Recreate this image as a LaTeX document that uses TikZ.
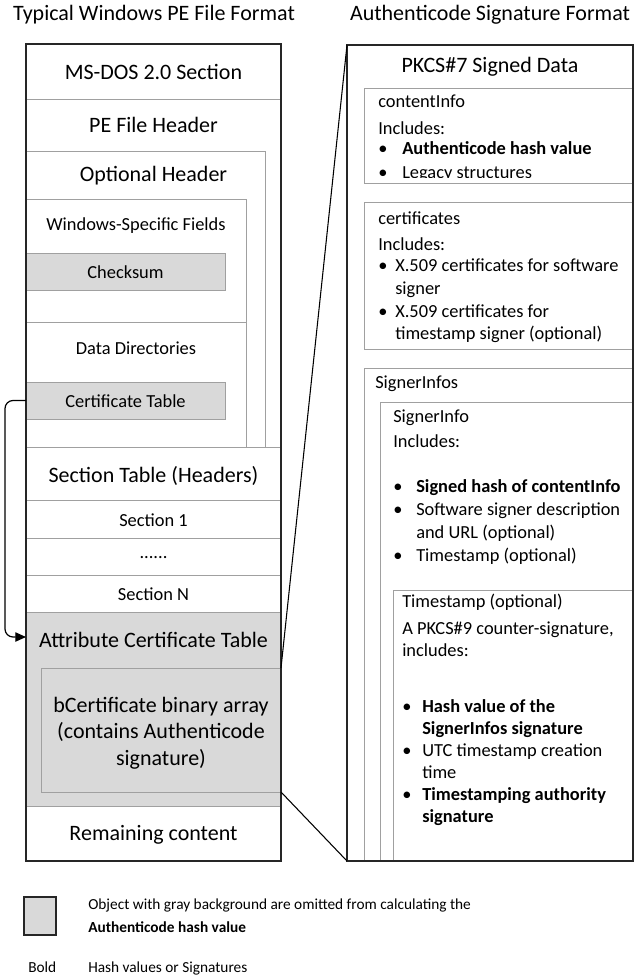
\documentclass[tikz,border=0pt]{standalone}
\usepackage{fontspec}
\setmainfont{Carlito}
\usetikzlibrary{positioning,arrows.meta,fit,calc}
\definecolor{cellgray}{HTML}{D9D9D9}
\definecolor{linegray}{HTML}{A0A0A0}
\newcommand{\bul}[1]{\makebox[#1][l]{\textbullet}}

\begin{document}
\begin{tikzpicture}[x=0.75pt,y=-0.75pt,
  frame/.style={draw=black!85, line width=1.5pt, inner sep=0pt, outer sep=0pt},
  part/.style={draw=linegray, line width=0.75pt, inner sep=0pt, outer sep=0pt},
  shaded/.style={part, fill=cellgray},
  big/.style={font=\fontsize{16.5}{19.9}\selectfont, anchor=base, inner sep=0pt},
  small/.style={font=\fontsize{13.8}{16.5}\selectfont, anchor=base, inner sep=0pt},
  note/.style={font=\fontsize{13.8}{16.5}\selectfont, anchor=base west, inner sep=0pt},
  legend/.style={font=\fontsize{11.5}{17.25}\selectfont, anchor=base west, inner sep=0pt},
  zoomline/.style={draw=black, line width=0.8pt},
]
\useasboundingbox (0,0) rectangle (635,978);

% titles
\node[big] (petitle) at (154,21) {Typical Windows PE File Format};
\node[big] (sigtitle) at (490,21) {Authenticode Signature Format};

% PE file layout
\node[part, fit={(26,44) (281,99)}] (dosrow) {};
\node[part, fit={(26,99) (281,447)}] (hdrrow) {};
\node[part, fit={(26,151) (265,447)}] (opt) {};
\node[part, fit={(26,199) (246,322)}] (winf) {};
\node[shaded, fit={(26,253) (225,290)}] (chk) {};
\node[part, fit={(26,322) (246,447)}] (ddir) {};
\node[shaded, fit={(26,382) (225,419)}] (cert) {};
\node[part, fit={(26,447) (281,500)}] (sectab) {};
\node[part, fit={(26,500) (281,538)}] (sec1) {};
\node[part, fit={(26,538) (281,575)}] (secdots) {};
\node[part, fit={(26,575) (281,612)}] (secn) {};
\node[shaded, fit={(26,612) (281,806)}] (attr) {};
\node[shaded, fit={(41,668) (281,792)}] (bcert) {};
\node[part, fit={(26,806) (281,861)}] (rest) {};
\node[frame, fit={(26,44) (281,861)}] (pe) {};

\node[big] (dostxt) at (153.5,79) {MS-DOS 2.0 Section};
\node[big] (pehtxt) at (153.5,132) {PE File Header};
\node[big] (opttxt) at (153.5,181) {Optional Header};
\node[small] (winftxt) at (136,230) {Windows-Specific Fields};
\node[small] (chktxt) at (125.5,278) {Checksum};
\node[small] (ddirtxt) at (136,354) {Data Directories};
\node[small] (certtxt) at (125.5,407) {Certificate Table};
\node[big] (sectabtxt) at (153.5,482) {Section Table (Headers)};
\node[small] (sec1txt) at (153.5,526) {Section 1};
\node[small] (dotstxt) at (153.5,558) {......};
\node[small] (secntxt) at (153.5,600) {Section N};
\node[big] (attrtxt) at (153.5,647) {Attribute Certificate Table};
\node[big] (bcerttxt) at (161,712) {\begin{tabular}[t]{@{}c@{}}bCertificate binary array\\ (contains Authenticode\\ signature)\end{tabular}};
\node[big] (resttxt) at (153.5,840) {Remaining content};

% certificate table points to the attribute table
\coordinate (attrin) at (26,637);
\draw[-{Triangle[length=8pt,width=7pt]}, line width=0.9pt, rounded corners=6pt]
  (cert.west) -- ++(-21,0) |- (attrin);

% signature layout
\node[part, fit={(364,88) (633,183)}] (cinfo) {};
\node[part, fit={(364,202) (633,349)}] (certs) {};
\node[part, fit={(364,368) (633,861)}] (sinfos) {};
\node[part, fit={(380,402) (633,861)}] (sinfo) {};
\node[part, fit={(393,590) (633,861)}] (tstamp) {};
\node[frame, fit={(347,45) (633,861)}] (pkcs) {};

\node[big] (pkcstxt) at (490,72) {PKCS\#7 Signed Data};
\begin{scope}
  \clip (cinfo.north west) rectangle (633,177);
  \node[note] (cinfotxt) at (378,107) {\begin{tabular}[t]{@{}l@{}}
    contentInfo\\[3.75pt]
    Includes:\\[-1.5pt]
    \bul{18pt}\textbf{Authenticode hash value}\\[1.5pt]
    \bul{18pt}Legacy structures
  \end{tabular}};
\end{scope}
\node[note] (certstxt) at (378,224) {\begin{tabular}[t]{@{}l@{}}
  certificates\\[3pt]
  Includes:\\[-0.75pt]
  \bul{12.75pt}X.509 certificates for software\\[0.75pt]
  \hspace*{12.75pt}signer\\[0.75pt]
  \bul{12.75pt}X.509 certificates for\\
  \hspace*{12.75pt}timestamp signer (optional)
\end{tabular}};
\node[note] (sinfostxt) at (375,388) {SignerInfos};
\node[note] (sinfotxt) at (393,422) {\begin{tabular}[t]{@{}l@{}}
  SignerInfo\\[2.25pt]
  Includes:\\[17.25pt]
  \bul{17.25pt}\textbf{Signed hash of contentInfo}\\[0.75pt]
  \bul{17.25pt}Software signer description\\[0.75pt]
  \hspace*{17.25pt}and URL (optional)\\[0.75pt]
  \bul{17.25pt}Timestamp (optional)
\end{tabular}};
\node[note] (tstamptxt) at (402,607) {\begin{tabular}[t]{@{}l@{}}
  Timestamp (optional)\\[3.75pt]
  A PKCS\#9 counter-signature,\\
  includes:\\[25.5pt]
  \bul{15pt}\textbf{Hash value of the}\\
  \hspace*{15pt}\textbf{SignerInfos signature}\\
  \bul{15pt}UTC timestamp creation\\
  \hspace*{15pt}time\\
  \bul{15pt}\textbf{Timestamping authority}\\
  \hspace*{15pt}\textbf{signature}
\end{tabular}};

% zoom lines from the binary array to the signature
\draw[zoomline] (bcert.north east) -- (pkcs.north west);
\draw[zoomline] (bcert.south east) -- (pkcs.south west);

% legend
\node[frame, fill=cellgray, fit={(24,897) (56,935)}] (keybox) {};
\node[legend] (keytext) at (88,909) {\begin{tabular}[t]{@{}l@{}}
  Object with gray background are omitted from calculating the\\
  \textbf{Authenticode hash value}
\end{tabular}};
\node[legend] (boldkey) at (28,972) {Bold};
\node[legend] (boldtext) at (88,972) {Hash values or Signatures};
\end{tikzpicture}
\end{document}
